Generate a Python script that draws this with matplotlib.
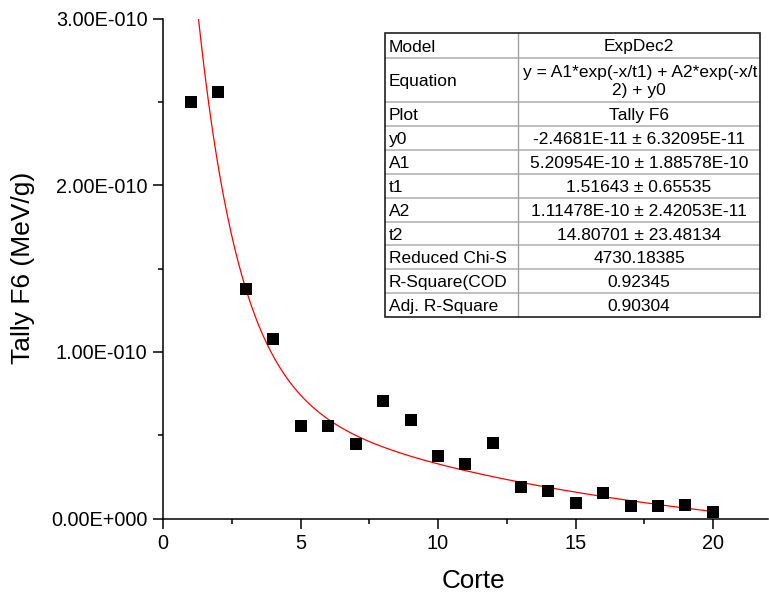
import numpy as np
import matplotlib
matplotlib.use("Agg")
import matplotlib.pyplot as plt
from matplotlib.ticker import FixedLocator, MultipleLocator
from matplotlib.lines import Line2D

plt.rcParams['font.family'] = ['Liberation Sans', 'DejaVu Sans']

# ---- data ----
corte = [1, 2, 3, 4, 5, 6, 7, 8, 9, 10, 11, 12, 13, 14, 15, 16, 17, 18, 19, 20]
tally_f6 = [2.50e-10, 2.56e-10, 1.38e-10, 1.08e-10, 0.557e-10, 0.557e-10, 0.447e-10,
            0.707e-10, 0.593e-10, 0.375e-10, 0.329e-10, 0.453e-10, 0.191e-10,
            0.168e-10, 0.096e-10, 0.156e-10, 0.078e-10, 0.078e-10, 0.084e-10, 0.040e-10]

# ExpDec2 fit parameters (from the table)
fit_y0 = -2.4681e-11
fit_A1 = 5.20954e-10
fit_t1 = 1.51643
fit_A2 = 1.11478e-10
fit_t2 = 14.80701

xtick_values = [0, 5, 10, 15, 20]
ytick_values = [0.0, 1.0e-10, 2.0e-10, 3.0e-10]
ytick_labels = ["0.00E+000", "1.00E-010", "2.00E-010", "3.00E-010"]

table_labels = ["Model", "Equation", "Plot", "y0", "A1", "t1", "A2", "t2",
                "Reduced Chi-S", "R-Square(COD", "Adj. R-Square"]
table_values = ["ExpDec2", "y = A1*exp(-x/t1) + A2*exp(-x/t\n2) + y0", "Tally F6",
                "-2.4681E-11 \u00b1 6.32095E-11", "5.20954E-10 \u00b1 1.88578E-10",
                "1.51643 \u00b1 0.65535", "1.11478E-10 \u00b1 2.42053E-11",
                "14.80701 \u00b1 23.48134", "4730.18385", "0.92345", "0.90304"]

# ---- figure ----
W, H = 769, 599
fig = plt.figure(figsize=(W / 100, H / 100), dpi=100)
L, R, T, B = 163, 768, 18.5, 518.5
ax = fig.add_axes([L / W, 1 - B / H, (R - L) / W, (B - T) / H])

ax.scatter(corte, tally_f6, marker='s', s=8.2 ** 2, color='black', zorder=3, linewidths=0)

xf = np.linspace(1.0, max(corte), 400)
yf = fit_A1 * np.exp(-xf / fit_t1) + fit_A2 * np.exp(-xf / fit_t2) + fit_y0
ax.plot(xf, yf, color='#ff0000', lw=0.9, zorder=2)

ax.set_xlim(0, 22)
ax.set_ylim(0, 3.0e-10)
ax.xaxis.set_major_locator(FixedLocator(xtick_values))
ax.xaxis.set_minor_locator(MultipleLocator(2.5))
ax.yaxis.set_major_locator(FixedLocator(ytick_values))
ax.set_yticklabels(ytick_labels)
ax.yaxis.set_minor_locator(MultipleLocator(0.5e-10))

for s in ['top', 'right']:
    ax.spines[s].set_visible(False)
for s in ['left', 'bottom']:
    ax.spines[s].set_linewidth(1.1)
ax.tick_params(which='major', direction='out', length=7.2, width=1.1, labelsize=14.3, pad=4)
ax.tick_params(which='minor', direction='out', length=3.6, width=1.1)

fig.text(473 / W, 1 - 581 / H, "Corte", fontsize=18.7, ha='center', va='center')
fig.text(23 / W, 1 - 268 / H, "Tally F6 (MeV/g)", fontsize=19, rotation=90,
         ha='center', va='center')

# ---- table ----
tx0, tx1, tdiv = 385, 760, 518
row_edges = [33, 58, 102, 126, 150, 174, 198, 222, 245, 269, 293, 316.5]
TFS = 12.5

def fx(px):
    return px / W

def fy(py):
    return 1 - py / H

fig.patches.append(plt.Rectangle((fx(tx0), fy(row_edges[-1])), fx(tx1) - fx(tx0),
                                 fy(row_edges[0]) - fy(row_edges[-1]),
                                 transform=fig.transFigure, facecolor='white',
                                 edgecolor='none', zorder=4))
for yy in row_edges[1:-1]:
    fig.lines.append(Line2D([fx(tx0), fx(tx1)], [fy(yy), fy(yy)], transform=fig.transFigure,
                            color='#b4b4b4', lw=1.2, zorder=5))
fig.lines.append(Line2D([fx(tdiv), fx(tdiv)], [fy(row_edges[0]), fy(row_edges[-1])],
                        transform=fig.transFigure, color='#a0a0a0', lw=1.0, zorder=5))
fig.patches.append(plt.Rectangle((fx(tx0), fy(row_edges[-1])), fx(tx1) - fx(tx0),
                                 fy(row_edges[0]) - fy(row_edges[-1]),
                                 transform=fig.transFigure, facecolor='none',
                                 edgecolor='#202020', lw=1.2, zorder=6))

clip_rect = plt.Rectangle((fx(tdiv), fy(row_edges[-1])), fx(tx1) - fx(tdiv) - 0.5 / W,
                          fy(row_edges[0]) - fy(row_edges[-1]), transform=fig.transFigure,
                          facecolor='none', edgecolor='none')
fig.patches.append(clip_rect)

for i, (lab, val) in enumerate(zip(table_labels, table_values)):
    yc = (row_edges[i] + row_edges[i + 1]) / 2
    fig.text(fx(tx0 + 4), fy(yc), lab, fontsize=TFS, ha='left', va='center_baseline', zorder=7)
    if "\n" in val:
        l1, l2 = val.split("\n")
        t1 = fig.text(fx(tdiv + 5), fy(yc - 9), l1, fontsize=TFS, ha='left',
                      va='center_baseline', zorder=7)
        t1.set_clip_path(clip_rect)
        fig.text(fx((tdiv + tx1) / 2), fy(yc + 9), l2, fontsize=TFS, ha='center',
                 va='center_baseline', zorder=7)
    else:
        fig.text(fx((tdiv + tx1) / 2), fy(yc), val, fontsize=TFS, ha='center',
                 va='center_baseline', zorder=7)

fig.savefig("out.png", dpi=100)
